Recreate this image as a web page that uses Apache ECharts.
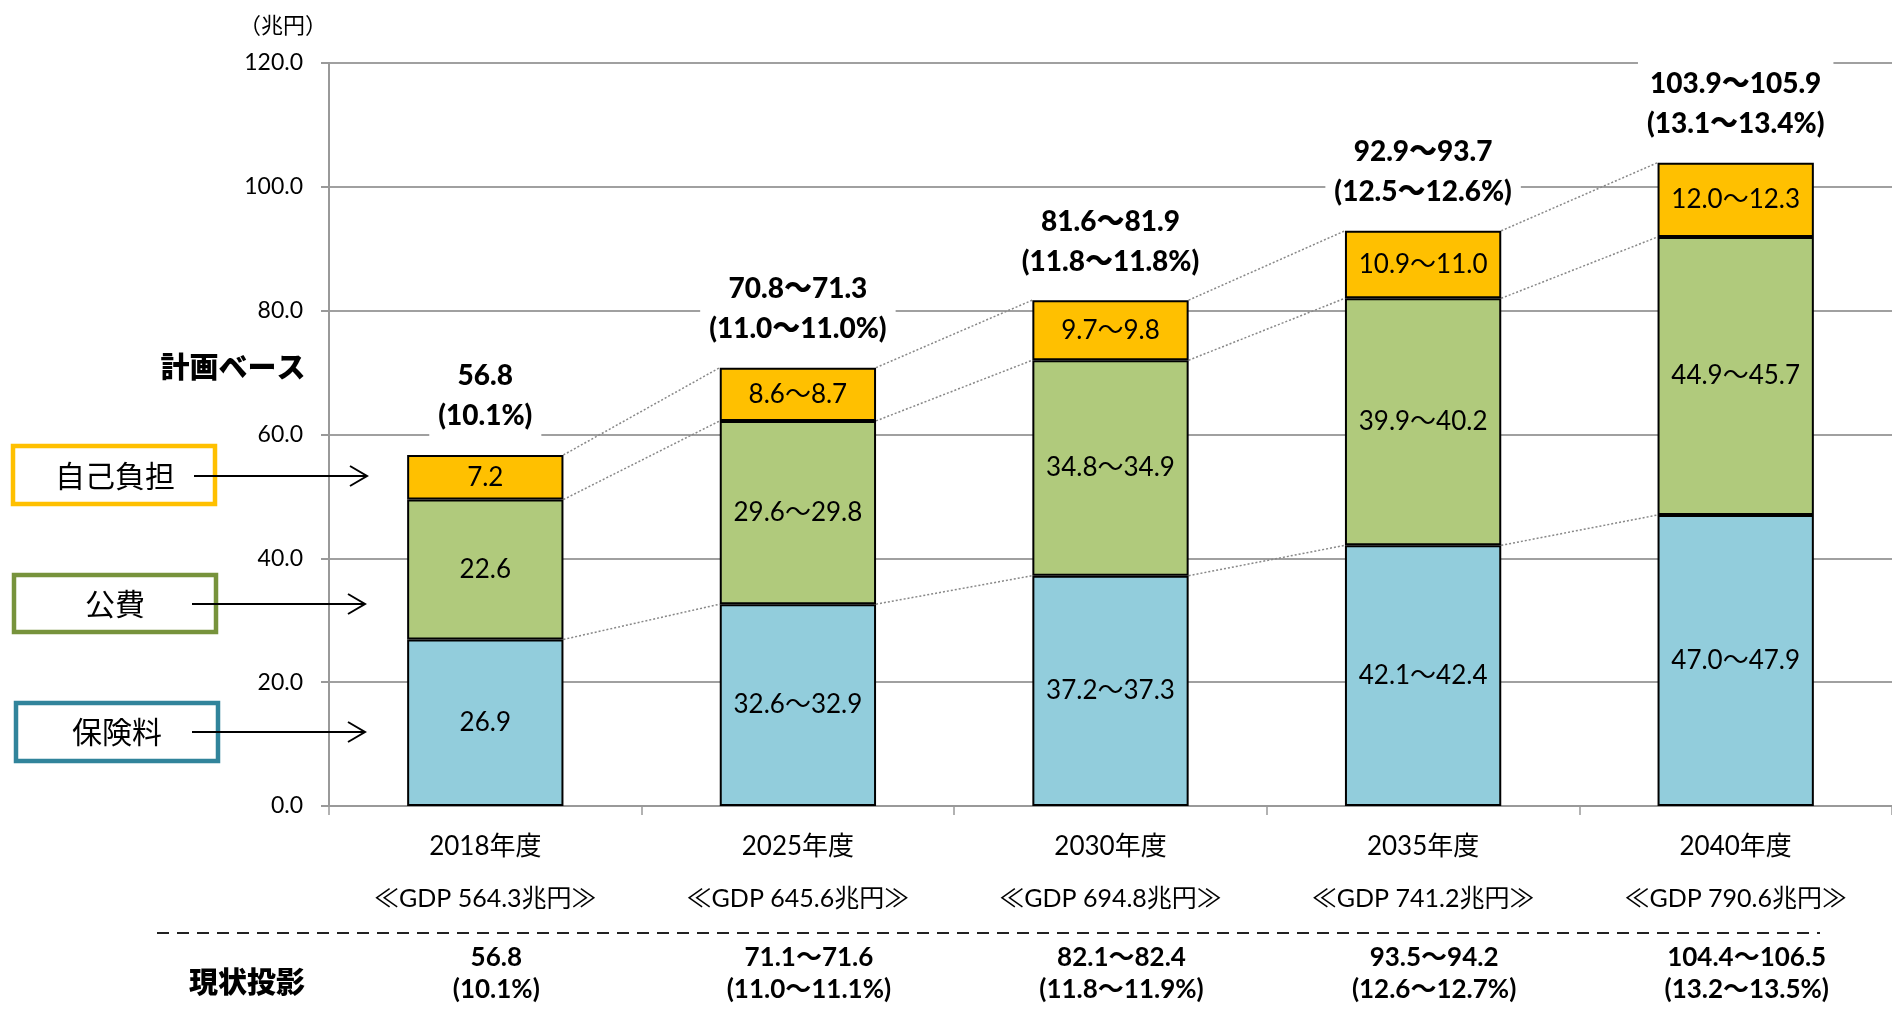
<!DOCTYPE html>
<html>
<head>
<meta charset="utf-8">
<script src="https://cdn.jsdelivr.net/npm/echarts@6/dist/echarts.min.js"></script>
<style>
html,body{margin:0;padding:0;background:#fff;}
#chart{width:1892px;height:1015px;}
</style>
</head>
<body>
<div id="chart"></div>
<script>
// ---- data ----
const categories = ['2018年度', '2025年度', '2030年度', '2035年度', '2040年度'];
const gdpLabels = ['≪GDP 564.3兆円≫', '≪GDP 645.6兆円≫', '≪GDP 694.8兆円≫', '≪GDP 741.2兆円≫', '≪GDP 790.6兆円≫'];
const insurance = [26.9, 32.6, 37.2, 42.1, 47.0];
const publicFunds = [22.6, 29.6, 34.8, 39.9, 44.9];
const selfPay = [7.2, 8.6, 9.7, 10.9, 12.0];
const insuranceLabels = ['26.9', '32.6～32.9', '37.2～37.3', '42.1～42.4', '47.0～47.9'];
const publicLabels = ['22.6', '29.6～29.8', '34.8～34.9', '39.9～40.2', '44.9～45.7'];
const selfPayLabels = ['7.2', '8.6～8.7', '9.7～9.8', '10.9～11.0', '12.0～12.3'];
const planTotals = ['56.8', '70.8～71.3', '81.6～81.9', '92.9～93.7', '103.9～105.9'];
const planPct = ['(10.1%)', '(11.0～11.0%)', '(11.8～11.8%)', '(12.5～12.6%)', '(13.1～13.4%)'];
const currentTotals = ['56.8', '71.1～71.6', '82.1～82.4', '93.5～94.2', '104.4～106.5'];
const currentPct = ['(10.1%)', '(11.0～11.1%)', '(11.8～11.9%)', '(12.6～12.7%)', '(13.2～13.5%)'];
const yMin = 0, yMax = 120, yInterval = 20;
const unitLabel = '（兆円）';
const planLabel = '計画ベース';
const currentLabel = '現状投影';
const legendNames = ['自己負担', '公費', '保険料'];

// ---- derived ----
const cumBlue = insurance.slice();
const cumGreen = insurance.map((v, i) => v + publicFunds[i]);
const cumTop = cumGreen.map((v, i) => v + selfPay[i]);
const connectorData = [];
for (let i = 0; i < categories.length - 1; i++) {
  connectorData.push([i, cumTop[i], cumTop[i + 1], cumGreen[i], cumGreen[i + 1], cumBlue[i], cumBlue[i + 1]]);
}

const FONT = "Lato, 'Noto Sans CJK JP', sans-serif";
const CJK = "'Noto Sans CJK JP', sans-serif";
const BAR_FRAC = 0.5;
const colors = { blue: '#92CDDC', green: '#B0CA7C', yellow: '#FFC000' };

const chart = echarts.init(document.getElementById('chart'), null, { renderer: 'canvas' });

function segLabel(arr) {
  return {
    show: true, position: 'inside', color: '#000', fontFamily: FONT, fontSize: 26,
    formatter: p => arr[p.dataIndex]
  };
}
const barItem = c => ({ color: c, borderColor: '#000', borderWidth: 2 });

function arrowGroup(y, x1, x2) {
  return [
    { type: 'line', shape: { x1: x1, y1: y, x2: x2, y2: y }, style: { stroke: '#000', lineWidth: 2 }, z: 20 },
    { type: 'polyline', shape: { points: [[x2 - 17, y - 10], [x2, y], [x2 - 17, y + 10]] }, style: { stroke: '#000', lineWidth: 2, fill: null }, z: 20 }
  ];
}

const option = {
  backgroundColor: '#fff',
  animation: false,
  grid: { left: 329, top: 63, width: 1566, height: 743, containLabel: false },
  xAxis: {
    type: 'category',
    data: categories,
    axisLine: { lineStyle: { color: '#999', width: 2 } },
    axisTick: { show: true, length: 9, lineStyle: { color: '#999', width: 1.5 } },
    axisLabel: {
      interval: 0, margin: 24, color: '#000', fontFamily: FONT,
      formatter: (v, i) => `{yr|${v}}\n{s1| }\n{gdp|${gdpLabels[i]}}\n{s2| }\n{cv|${currentTotals[i]}}\n{cp|${currentPct[i]}}`,
      rich: {
        yr: { fontSize: 26, lineHeight: 34, fontFamily: FONT, color: '#000' },
        s1: { fontSize: 1, lineHeight: 18 },
        gdp: { fontSize: 25, lineHeight: 34, fontFamily: FONT, color: '#000' },
        s2: { fontSize: 1, lineHeight: 26 },
        cv: { fontSize: 26, lineHeight: 32, fontWeight: 'bold', fontFamily: FONT, color: '#000', padding: [0, 0, 0, 22] },
        cp: { fontSize: 26, lineHeight: 32, fontWeight: 'bold', fontFamily: FONT, color: '#000', padding: [0, 0, 0, 22] }
      }
    },
    splitLine: { show: false }
  },
  yAxis: {
    type: 'value', min: yMin, max: yMax, interval: yInterval,
    axisLine: { show: true, lineStyle: { color: '#999', width: 2 } },
    axisTick: { show: true, inside: false, length: 8, lineStyle: { color: '#999', width: 2 } },
    axisLabel: { margin: 26, color: '#000', fontSize: 23, fontFamily: FONT, formatter: v => v.toFixed(1) },
    splitLine: { show: true, lineStyle: { color: '#A0A0A0', width: 2 } }
  },
  series: [
    {
      type: 'custom', name: 'connectors', data: connectorData, z: 1, silent: true,
      encode: { x: 0, y: 1 },
      renderItem: function (params, api) {
        const i = api.value(0);
        const half = api.size([1, 0])[0] * BAR_FRAC / 2;
        const children = [];
        for (let k = 0; k < 3; k++) {
          const a = api.coord([i, api.value(1 + 2 * k)]);
          const b = api.coord([i + 1, api.value(2 + 2 * k)]);
          children.push({
            type: 'line',
            shape: { x1: a[0] + half, y1: a[1], x2: b[0] - half, y2: b[1] },
            style: { stroke: '#888', lineWidth: 1.5, lineDash: [2, 2] }
          });
        }
        return { type: 'group', children: children };
      }
    },
    { type: 'bar', name: '保険料', stack: 'a', data: insurance, barWidth: '50%', itemStyle: barItem(colors.blue), label: segLabel(insuranceLabels), z: 3 },
    { type: 'bar', name: '公費', stack: 'a', data: publicFunds, itemStyle: barItem(colors.green), label: segLabel(publicLabels), z: 3 },
    {
      type: 'bar', name: '自己負担', stack: 'a', data: selfPay, itemStyle: barItem(colors.yellow), label: segLabel(selfPayLabels), z: 3,
      markPoint: {
        silent: true, symbol: 'rect', symbolSize: 1, itemStyle: { color: 'rgba(0,0,0,0)' },
        data: cumTop.map((v, i) => ({ coord: [i, v], name: String(i) })),
        label: {
          show: true, position: 'top', distance: 16,
          formatter: p => planTotals[+p.name] + '\n' + planPct[+p.name],
          fontSize: 28, lineHeight: 40, fontWeight: 900, fontFamily: FONT, color: '#000',
          backgroundColor: '#fff', padding: [6, 9, 2, 9]
        }
      }
    }
  ],
  graphic: [
    { type: 'text', x: 283, y: 25, style: { text: unitLabel, font: `22px ${CJK}`, fill: '#000', align: 'center', verticalAlign: 'middle' } },
    { type: 'text', x: 233, y: 367, style: { text: planLabel, font: `900 29px ${CJK}`, fill: '#000', align: 'center', verticalAlign: 'middle' } },
    { type: 'text', x: 247, y: 982, style: { text: currentLabel, font: `900 29px ${CJK}`, fill: '#000', align: 'center', verticalAlign: 'middle' } },
    { type: 'line', shape: { x1: 157, y1: 933, x2: 1820, y2: 933 }, style: { stroke: '#222', lineWidth: 2, lineDash: [12, 8] } },
    { type: 'rect', shape: { x: 13, y: 446, width: 202, height: 58 }, style: { fill: '#fff', stroke: '#FFC000', lineWidth: 4.5 } },
    { type: 'rect', shape: { x: 14, y: 575, width: 202, height: 57 }, style: { fill: '#fff', stroke: '#77933C', lineWidth: 4.5 } },
    { type: 'rect', shape: { x: 16, y: 703, width: 202, height: 58 }, style: { fill: '#fff', stroke: '#31849B', lineWidth: 4.5 } },
    { type: 'text', x: 115, y: 476, style: { text: legendNames[0], font: `30px ${CJK}`, fill: '#000', align: 'center', verticalAlign: 'middle' }, z: 10 },
    { type: 'text', x: 115, y: 604, style: { text: legendNames[1], font: `30px ${CJK}`, fill: '#000', align: 'center', verticalAlign: 'middle' }, z: 10 },
    { type: 'text', x: 117, y: 732, style: { text: legendNames[2], font: `30px ${CJK}`, fill: '#000', align: 'center', verticalAlign: 'middle' }, z: 10 }
  ].concat(arrowGroup(476, 194, 367), arrowGroup(604, 192, 365), arrowGroup(732, 192, 365))
};
chart.setOption(option);
</script>
</body>
</html>
